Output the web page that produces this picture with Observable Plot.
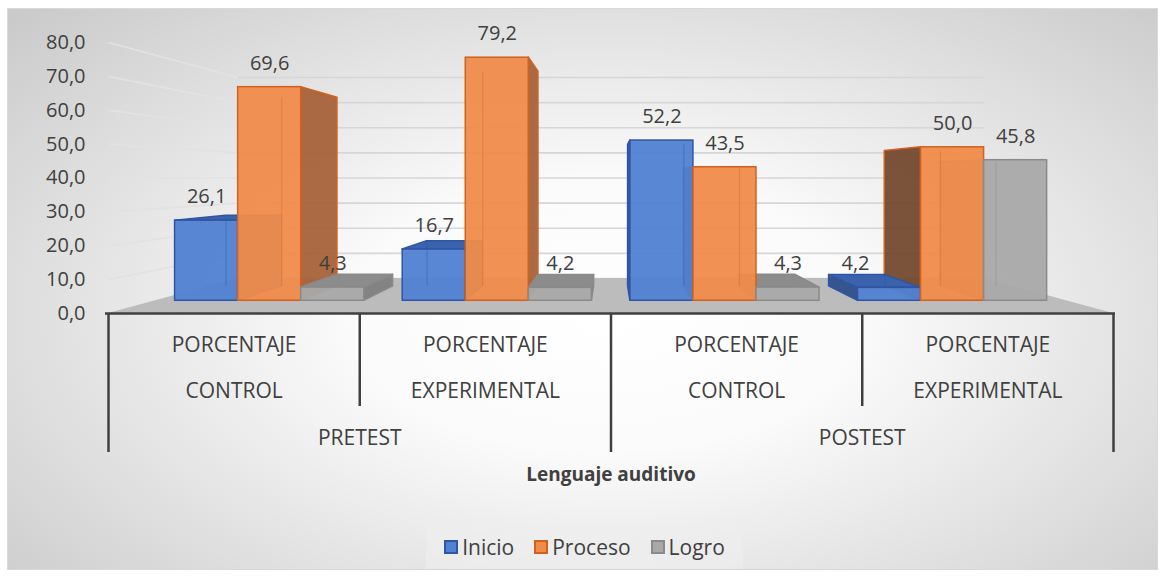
<!DOCTYPE html>
<html>
<head>
<meta charset="utf-8">
<script src="https://cdn.jsdelivr.net/npm/d3@7"></script>
<script src="https://cdn.jsdelivr.net/npm/@observablehq/plot@0.6"></script>
<style>
  html, body { margin: 0; padding: 0; background: #ffffff; }
  body { width: 1168px; height: 580px; position: relative; overflow: hidden; font-family: "Open Sans", sans-serif; }
  #bg { position: absolute; left: 7px; top: 8px; width: 1151px; height: 562px; box-sizing: border-box;
        border: 1px solid #d9d9d9;
        background: radial-gradient(ellipse 72% 80% at 52% 55%, #ffffff 0%, #fbfbfb 30%, #c9c9c9 100%); }
  #plot { position: absolute; left: 0; top: 0; }
  #legend { position: absolute; left: 426px; top: 524px; width: 317px; height: 45px;
            background: rgba(238,238,238,0.55); display: flex; align-items: center; justify-content: center;
            font-size: 21px; color: #404040; }
  .item { display: flex; align-items: center; margin: 0 10px; }
  .sw { width: 14px; height: 14px; box-sizing: border-box; border: 2px solid; margin-right: 4px; }
</style>
</head>
<body>
<div id="bg"></div>
<div id="plot"></div>
<div id="legend"></div>
<script>
// ---------------- data ----------------
const phases = ["PRETEST", "POSTEST"];
const groupTop = ["PORCENTAJE", "PORCENTAJE", "PORCENTAJE", "PORCENTAJE"];
const groupBottom = ["CONTROL", "EXPERIMENTAL", "CONTROL", "EXPERIMENTAL"];
const series = ["Inicio", "Proceso", "Logro"];
const inicio = [26.1, 16.7, 52.2, 4.2];
const proceso = [69.6, 79.2, 43.5, 50.0];
const logro = [4.3, 4.2, 4.3, 45.8];
const yTicks = [0, 10, 20, 30, 40, 50, 60, 70, 80];
const xTitle = "Lenguaje auditivo";

// ---------------- styles ----------------
const palette = {
  Inicio:  {front: "#5081d2", sideR: "#3d63a8", sideL: "#2f4f8a", top: "#3b62ad", stroke: "#2f55a4"},
  Proceso: {front: "#f08c4b", sideR: "#a8623a", sideL: "#74492f", top: "#c96b2f", stroke: "#d0621d"},
  Logro:   {front: "#a9a9a9", sideR: "#808080", sideL: "#8e8e8e", top: "#8c8c8c", stroke: "#8a8a8a"}
};

// pseudo-3D perspective (in data units): centre of view, depth scales
const CX = 2, CY = 40, S_FRONT = 0.906, S_BACK = 0.80, S_WALL = 0.742, GAP = 0.085, BW = 0.277;
const px = (g, s) => CX + (g - CX) * s;
const py = (v, s) => CY + (v - CY) * s;

const seriesValues = [inicio, proceso, logro];
const bars = [];
seriesValues.forEach((arr, si) => arr.forEach((v, gi) => {
  const g0 = gi + GAP + si * BW;
  bars.push({id: si * 10 + gi, si, gi, v, g0, g1: g0 + BW, name: series[si]});
}));

const sides = bars.flatMap(b => {
  const right = (b.g0 + b.g1) / 2 < CX;
  const gx = right ? b.g1 : b.g0;
  return [S_FRONT, S_BACK].map(s => ({id: b.id, name: b.name, right,
    x: px(gx, s), y1: py(0, s), y2: py(b.v, s)}));
});
const tops = bars.filter(b => b.v < CY).flatMap(b =>
  [S_FRONT, S_BACK].map(s => ({id: b.id, name: b.name,
    y: py(b.v, s), x1: px(b.g0, s), x2: px(b.g1, s)})));
// hidden back edges seen through the translucent faces
const backEdges = bars.map(b => {
  const right = (b.g0 + b.g1) / 2 < CX;
  const gx = right ? b.g0 : b.g1;
  return {name: b.name, x: px(gx, S_BACK), y1: py(0, S_BACK), y2: py(b.v, S_BACK)};
});
const floor = [1, S_WALL].map(s => ({y: py(0, s), x1: px(0, s), x2: px(4, s)}));

const fmt = d => d.toFixed(1).replace(".", ",");
const special = b => b.gi === 3 && b.si === 0;

const plot = Plot.plot({
  width: 1168,
  height: 500,
  marginLeft: 108,
  marginRight: 55,
  marginTop: 42,
  marginBottom: 187,
  x: {domain: [0, 4], label: null},
  y: {domain: [0, 80], label: null},
  color: {type: "identity"},
  style: {background: "transparent", color: "#404040", fontFamily: "'Open Sans', sans-serif", fontSize: "20px", overflow: "visible"},
  marks: [
    // gridlines: left wall and back wall
    Plot.link(yTicks, {x1: 0, y1: d => d, x2: px(0, S_WALL), y2: d => py(d, S_WALL), stroke: "#e2e2e2", strokeWidth: 1.6}),
    Plot.link(yTicks, {x1: px(0, S_WALL), x2: px(4, S_WALL), y1: d => py(d, S_WALL), y2: d => py(d, S_WALL), stroke: "#d6d6d6", strokeWidth: 1.6}),
    // floor
    Plot.areaX(floor, {y: "y", x1: "x1", x2: "x2", fill: "#bcbcbc", curve: "linear"}),
    // side faces
    Plot.areaY(sides, {x: "x", y1: "y1", y2: "y2", z: "id", curve: "linear",
      fill: d => d.right ? palette[d.name].sideR : palette[d.name].sideL, fillOpacity: 0.95,
      stroke: d => palette[d.name].stroke, strokeWidth: 1.5}),
    // top faces
    Plot.areaX(tops, {y: "y", x1: "x1", x2: "x2", z: "id", curve: "linear",
      fill: d => palette[d.name].top, stroke: d => palette[d.name].stroke, strokeWidth: 1.5}),
    // front faces
    Plot.rect(bars, {x1: b => px(b.g0, S_FRONT), x2: b => px(b.g1, S_FRONT), y1: py(0, S_FRONT), y2: b => py(b.v, S_FRONT),
      fill: b => palette[b.name].front, fillOpacity: 0.95, stroke: b => palette[b.name].stroke, strokeWidth: 1.5}),
    // faint back edges through the translucent front
    Plot.ruleX(backEdges, {x: "x", y1: "y1", y2: "y2", stroke: d => palette[d.name].stroke, strokeOpacity: 0.35, strokeWidth: 1.2}),
    // data labels
    Plot.text(bars.filter(b => !special(b)), {x: b => px((b.g0 + b.g1) / 2, S_FRONT), y: b => py(b.v, S_FRONT), text: b => fmt(b.v), dy: -24, fill: "#404040"}),
    Plot.text(bars.filter(special), {x: b => px((b.g0 + b.g1) / 2, S_FRONT), y: b => py(b.v, S_FRONT), text: b => fmt(b.v), dy: -24, dx: -34, fill: "#404040"}),
    // category axis line
    Plot.ruleY([0], {x1: -0.012, x2: 4.008, stroke: "#404040", strokeWidth: 2.5}),
    // y axis labels
    Plot.axisY(yTicks, {tickSize: 0, tickPadding: 23, tickFormat: fmt, label: null, fontSize: 20}),
    // category separators
    Plot.axisX([1, 3], {tickSize: 93, tickFormat: () => "", label: null, strokeWidth: 2.5}),
    Plot.axisX([0, 2, 4], {tickSize: 139, tickFormat: () => "", label: null, strokeWidth: 2.5}),
    // category labels
    Plot.axisX([0.5, 1.5, 2.5, 3.5], {tickSize: 0, tickPadding: 24, tickFormat: d => groupTop[Math.floor(d)], label: null, fontSize: 21}),
    Plot.axisX([0.5, 1.5, 2.5, 3.5], {tickSize: 0, tickPadding: 70, tickFormat: d => groupBottom[Math.floor(d)], label: null, fontSize: 21}),
    Plot.axisX([1, 3], {tickSize: 0, tickPadding: 117, tickFormat: d => phases[(d - 1) / 2], label: null, fontSize: 21}),
    // axis title
    Plot.text([xTitle], {frameAnchor: "bottom", lineAnchor: "middle", dy: 161, text: d => d, fontWeight: "bold", fontSize: 19, fill: "#404040"})
  ]
});
document.getElementById("plot").appendChild(plot);

// legend
const legend = document.getElementById("legend");
series.forEach(name => {
  const item = document.createElement("div");
  item.className = "item";
  const sw = document.createElement("span");
  sw.className = "sw";
  sw.style.background = palette[name].front;
  sw.style.borderColor = palette[name].stroke;
  const label = document.createElement("span");
  label.textContent = name;
  item.appendChild(sw);
  item.appendChild(label);
  legend.appendChild(item);
});
</script>
</body>
</html>
